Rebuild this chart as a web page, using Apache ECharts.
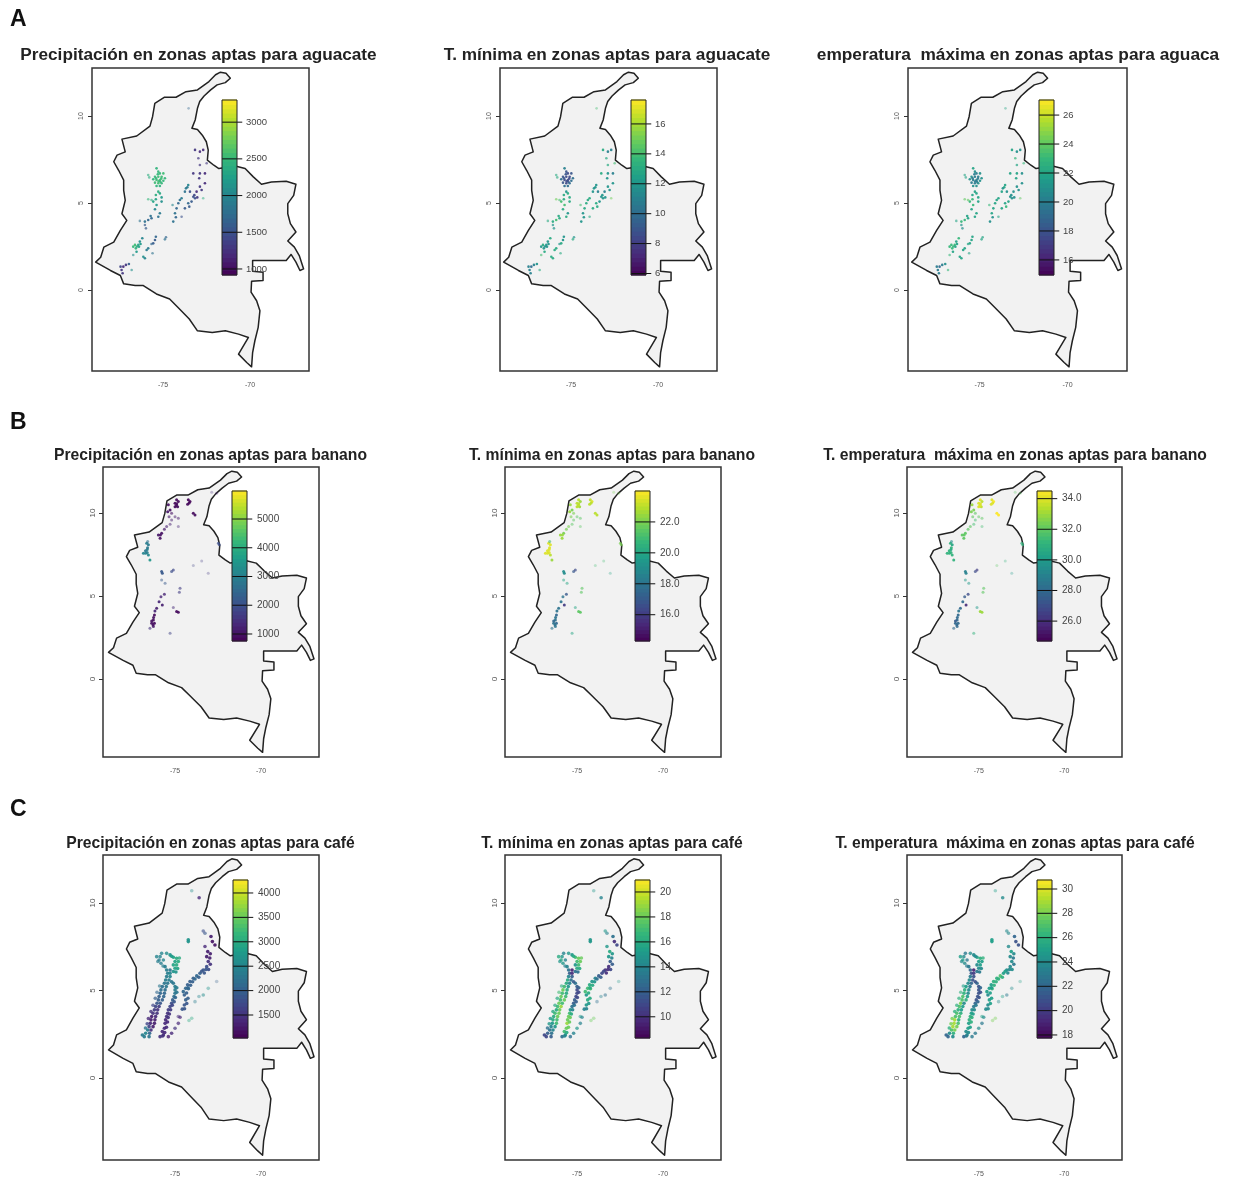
<!DOCTYPE html>
<html><head><meta charset="utf-8">
<script src="https://cdn.jsdelivr.net/npm/echarts@6/dist/echarts.min.js"></script>
<style>html,body{margin:0;background:#fff}#c{width:1236px;height:1182px;filter:blur(.7px)}</style>
</head><body><div id="c"></div>
<script>
// Colombia outline [lon, lat]
const outline=[[-71.70,12.52],[-71.38,12.46],[-71.13,12.17],[-71.42,11.92],[-71.89,11.79],[-72.26,11.50],[-72.64,11.15],[-72.89,10.83],[-73.02,10.44],[-73.15,9.77],[-73.34,9.29],[-73.02,9.23],[-72.74,8.90],[-72.51,8.52],[-72.40,8.04],[-72.45,7.46],[-72.08,7.17],[-71.79,6.98],[-70.85,7.12],[-70.28,6.98],[-69.81,6.50],[-69.34,6.08],[-68.77,6.21],[-67.92,6.25],[-67.36,6.08],[-67.49,5.44],[-67.83,4.96],[-67.83,4.38],[-67.68,3.81],[-67.36,3.33],[-67.83,2.81],[-67.45,2.46],[-67.17,1.98],[-66.92,1.21],[-67.13,1.12],[-67.36,1.60],[-67.64,2.04],[-67.92,1.69],[-69.85,1.69],[-69.85,1.08],[-69.25,1.02],[-69.25,0.54],[-69.91,0.50],[-69.94,-0.13],[-69.62,-0.62],[-69.43,-1.19],[-69.53,-2.15],[-69.72,-2.92],[-69.85,-3.60],[-69.91,-4.42],[-70.19,-4.17],[-70.66,-3.69],[-70.09,-2.73],[-70.66,-2.54],[-71.42,-2.35],[-72.17,-2.44],[-73.02,-2.35],[-73.49,-1.67],[-74.15,-1.00],[-74.62,-0.52],[-75.38,-0.23],[-76.13,0.25],[-76.60,0.25],[-77.26,0.35],[-77.45,0.83],[-78.02,1.12],[-78.87,1.60],[-78.58,1.88],[-78.40,2.46],[-77.83,2.75],[-77.45,3.42],[-77.08,4.00],[-77.36,4.38],[-77.17,5.15],[-77.26,5.73],[-77.26,6.31],[-77.55,6.88],[-77.83,7.37],[-77.64,7.75],[-77.17,7.94],[-77.36,8.67],[-76.51,8.85],[-75.75,9.42],[-75.60,9.96],[-75.47,10.73],[-74.91,11.08],[-74.25,11.08],[-73.68,11.40],[-73.02,11.50],[-72.36,11.98],[-71.98,12.37]];

// suitable zones: [lon, lat, precipitation, t min, t max, optional faintness]
const aguacate=[
[-75.37,6.99,2450,11,22],[-75.27,6.80,2500,9,21],[-75.18,6.70,2500,8.5,20],[-74.98,6.70,2550,9,21],[-75.46,6.51,2500,9,21],[-75.27,6.51,2550,8.5,20],[-75.08,6.51,2550,8.5,20],[-74.89,6.42,2500,10,21],[-75.56,6.36,2450,10,21],[-75.37,6.32,2550,8.5,20],[-75.18,6.32,2550,8.5,20],[-74.98,6.28,2500,10,21],[-75.46,6.17,2550,9,20],[-75.27,6.13,2550,8.5,20],[-75.08,6.13,2500,10,21],[-75.37,5.98,2450,10,21],[-75.18,5.98,2450,10,21],[-75.30,6.65,2500,9,20],[-75.10,6.40,2550,8.5,20],[-75.25,6.25,2550,8.5,20],[-75.40,6.42,2500,9,20],[-75.15,6.22,2500,9,20],[-75.85,6.61,2400,13,22,.6],[-75.79,6.47,2400,13,22,.6],
[-75.27,5.65,2400,12,22],[-75.41,5.46,2400,13,22],[-75.18,5.55,2350,13,22],[-75.41,5.21,2300,13,23],[-75.56,5.08,2300,14,23],[-75.08,5.32,2200,13,22],[-75.37,4.88,2200,14,23],[-75.66,5.17,2400,14,24,.6],[-75.85,5.21,2500,15,24,.6],[-75.08,5.08,2100,13,22],[-75.46,4.64,2000,13,22],
[-75.18,4.41,1900,12,22],[-75.27,4.21,1800,13,22],[-75.66,4.12,1700,13,22],[-75.85,4.02,1700,14,23],[-76.04,3.93,1800,13,23],[-76.33,3.97,1800,13,22,.6],[-75.98,3.54,1600,12,21,.7],[-76.04,3.73,1600,12,21,.7],[-75.71,4.25,1800,13,22],
[-75.41,3.06,1700,12,22],[-75.46,2.87,1600,12,22],[-75.56,2.68,1600,13,22],[-74.83,3.03,1700,12,22,.7],[-74.89,2.91,1800,13,22,.7],
[-76.71,2.49,2500,12,23],[-76.56,2.39,2450,12,23],[-76.42,2.59,2300,12,23],[-76.33,2.78,2100,12,22],[-76.19,2.97,2000,13,23],[-76.52,2.20,2200,13,22],[-76.61,2.59,2550,13,23],[-76.29,2.64,2200,12,22],[-76.50,2.50,2400,12,23],[-76.38,2.48,2300,12,22],
[-76.13,1.91,2100,13,22],[-76.04,1.82,2000,13,22],[-75.94,2.30,1900,13,22],[-75.85,2.39,1900,13,22],[-75.66,2.64,1700,12,22,.7],[-75.60,2.11,1800,13,22,.6],[-76.71,2.01,2100,14,23,.6],
[-76.96,1.49,1600,12,21],[-77.13,1.44,1300,11,20],[-77.28,1.34,1200,10,19],[-77.38,1.15,1300,11,20],[-77.32,0.96,1300,11,20],[-77.44,1.34,1400,11,20],[-76.80,1.15,2100,13,23,.6],
[-73.16,8.05,1300,13,22],[-72.88,7.95,1200,11,21],[-72.69,8.05,1200,11,21],[-72.97,7.57,1300,13,23,.7],[-72.88,7.18,1300,13,22,.7],[-72.49,7.28,1300,14,23,.6],[-73.26,6.70,1300,13,22],[-72.88,6.70,1300,12,22],[-72.59,6.70,1200,11,21],[-72.92,6.42,1300,12,22],[-72.59,6.13,1200,12,21],[-72.88,5.94,1300,12,21],
[-73.55,6.03,2000,12,22],[-73.68,5.84,1900,12,21],[-73.45,5.65,1500,11,21],[-73.74,5.65,1800,12,22],[-73.07,5.65,1200,11,21],[-72.78,5.75,1300,12,21],[-73.16,5.27,1500,12,21],[-73.36,5.08,1600,12,22],[-73.55,4.98,1700,13,22],[-73.26,5.36,1500,12,21],[-73.03,5.32,1300,12,21],[-73.60,5.90,1900,12,22],[-73.20,5.45,1400,12,21],
[-74.03,5.17,1800,13,22],[-74.12,4.98,1700,13,22],[-73.93,5.27,1900,13,22],[-73.74,4.69,1600,13,22],[-73.49,4.79,1600,13,23],[-74.22,4.69,1700,13,22],[-74.31,4.41,1800,12,22],[-74.26,4.18,1700,12,21],[-74.41,3.93,1800,12,21],[-74.45,4.88,2000,14,23,.6],[-72.69,5.27,2400,15,24,.5],[-73.93,4.21,1500,13,22,.6],[-73.53,10.44,1700,14,22,.4]];
const banano=[
[-74.91,10.79,900,23,34],[-75.00,10.59,850,23,34],[-74.81,10.69,900,22.5,33.5],[-74.85,10.38,950,22.5,33.5],[-75.00,10.38,900,23,34],[-74.90,10.55,900,23,34],[-74.92,10.45,900,23,34],[-75.39,10.49,1000,22.5,33],[-75.29,10.18,1000,22,32.5],[-75.43,10.08,1100,22.5,32.5],[-75.20,9.98,1000,22,32,.6],[-75.35,9.78,1100,22,32,.6],[-75.00,9.78,1100,21.5,32,.5],[-74.81,9.68,1100,21.5,32,.5],
[-74.23,10.79,850,23,34],[-74.13,10.69,850,23.5,34.5],[-74.27,10.53,900,23,34],[-74.18,10.60,850,23,34],[-73.94,9.98,900,23,34.5],[-73.84,9.88,950,23,34.5],
[-75.87,8.48,1000,22.5,32],[-75.78,8.78,1000,22,32],[-75.97,8.68,1100,22.5,32],[-75.62,9.02,1100,22,32,.7],[-75.49,9.18,1200,22,32,.6],[-75.29,9.32,1200,21.5,31.5,.5],[-75.85,8.68,1000,22.5,32],[-75.20,9.58,1200,21.5,31.5,.5],[-74.81,9.18,1300,21.5,31.5,.4],
[-76.65,8.18,3000,23.5,31],[-76.55,8.08,2900,23.5,30.5],[-76.71,7.57,3100,23.5,31],[-76.84,7.57,3100,23.5,31],[-76.55,7.47,3200,23,31],[-76.46,7.17,3500,22.5,31],[-76.59,8.28,2700,21,29.5,.6],[-76.62,7.80,3000,23.5,30.5],[-76.72,7.72,2800,23.5,31],[-76.60,7.90,2900,23.5,31],[-76.62,7.62,3000,23.5,31],
[-75.78,6.47,2200,19,29],[-75.74,6.37,2200,19,29],[-75.20,6.47,2000,17,27,.7],[-75.10,6.57,1900,16.5,26.5,.7],[-75.78,5.97,2200,20,30,.5],[-75.58,5.77,2200,20,30,.5],
[-74.71,5.47,1700,21.5,32,.6],[-74.75,5.22,1700,21.5,32,.6],[-75.62,5.10,1300,17,27,.8],[-75.82,4.96,1300,18,27.5,.8],[-75.93,4.66,1300,18,28],[-75.74,4.46,1200,16,26],[-76.07,4.26,1200,18,28],[-76.17,4.10,1300,18,28.5],[-76.20,3.86,900,17.5,28],[-76.26,3.56,900,18,28],[-76.36,3.36,1000,18,28],[-76.26,3.16,1100,18,28,.8],[-76.46,3.06,1500,18,28,.6],[-76.36,3.50,1000,17.5,27.5],[-76.20,3.36,900,17.5,28],[-76.25,3.70,1000,18,28],[-76.28,3.25,1000,18,28],
[-74.91,4.06,900,21.5,33],[-74.81,4.02,900,21.5,33],[-75.10,4.30,1400,20,30,.5],[-75.29,2.75,1800,20,31,.5],
[-72.48,8.18,2000,22,31,.7],[-72.43,8.08,2000,22,31,.7],[-73.45,7.11,1700,21,31,.3],[-73.94,6.83,1800,21,32,.3],[-73.07,6.37,1600,20,30,.3],[-72.87,11.25,1400,22,32,.3],[-72.58,11.19,1300,22,32,.3]];
const cafe=[
[-76.79,2.36,2400,11,22],[-76.51,2.36,2300,12,24],[-76.71,2.55,2500,12,24],[-76.48,2.55,2100,13,26],[-76.59,2.74,2400,13,27],[-76.40,2.74,1500,14,28],[-76.51,2.93,1700,14,29],[-76.28,2.93,1300,15,28],[-76.44,3.12,1400,15,29],[-76.20,3.12,1300,17,27],[-76.40,3.32,1300,16,29],[-76.17,3.32,1300,17,26],[-76.36,3.51,1300,16,27],[-76.13,3.51,1400,18,27],[-76.28,3.70,1500,17,27],[-76.05,3.70,1500,18,26],[-76.20,3.89,1600,16,26],[-76.01,3.89,1500,18,25],[-76.13,4.08,1700,17,27],[-75.93,4.08,1600,19,25],[-76.05,4.27,1900,18,28],[-75.86,4.27,1900,17,24],[-75.97,4.46,2000,17,27],[-75.74,4.46,2000,18,26],[-75.93,4.65,2000,18,27],[-75.66,4.65,2100,17,25],[-75.86,4.84,2100,17,26],[-75.62,4.84,2100,16,24],[-75.82,5.03,2200,18,26],[-75.58,5.03,2200,16,24],[-75.74,5.22,2200,17,25],[-75.51,5.22,2300,15,23],[-75.62,5.41,2300,16,24],[-75.43,5.41,2300,14,22],[-75.55,5.60,2400,16,24],[-75.35,5.60,2400,13,21],[-75.49,5.79,2400,14,23],[-75.29,5.79,2500,12,21],
[-76.90,2.45,2400,11,22],[-76.72,2.85,2300,13,26,.8],[-76.62,3.10,1700,15,28,.8],[-76.55,3.40,1400,15,28,.8],[-76.40,3.80,1500,16,26,.8],[-76.28,4.15,1700,16,26,.7],[-76.15,4.55,2000,16,26,.7],[-76.05,4.90,2100,17,26,.6],[-75.90,5.25,2300,16,25,.6],
[-75.43,5.98,2400,12,21],[-75.49,6.17,2400,13,22],[-75.58,6.36,2400,14,23],[-75.82,6.55,2400,15,24,.8],[-75.93,6.74,2400,16,25,.8],[-75.68,6.74,2500,14,23,.8],[-76.07,6.93,2500,16,25,.8],[-75.87,6.93,2500,15,24,.8],[-75.78,7.12,2500,14,23,.8],[-75.49,7.12,2600,15,24,.8],[-75.70,6.40,2400,14,23,.7],[-76.00,6.65,2400,15,24,.7],
[-75.29,7.03,2700,15,24],[-75.10,6.90,2900,17,25],[-74.91,6.84,3000,18,26],[-74.81,6.65,3000,18,25],[-74.91,6.46,3000,17,25],[-75.00,6.27,2900,16,24],[-75.10,6.08,2700,13,23],[-75.29,5.98,2500,10,20],[-75.00,6.65,2900,17,25],[-75.10,6.46,2900,15,24],[-75.29,6.17,2300,9.5,19],[-75.20,6.95,2800,16,24],[-74.75,6.85,3000,18,26,.8],[-74.85,6.25,2900,16,24],[-74.95,6.05,2700,13,23],
[-75.87,2.36,1500,13,22],[-75.68,2.46,1400,15,24],[-75.74,2.65,1400,17,24],[-75.62,2.84,1400,18,25],[-75.58,3.12,1400,19,25],[-75.55,3.32,1400,18,26],[-75.49,3.51,1500,18,26],[-75.43,3.70,1500,17,25],[-75.39,3.89,1600,15,24],[-75.29,4.08,1700,13,23],[-75.20,4.27,1800,12,22],[-75.14,4.46,2000,12,21],[-75.06,4.65,2200,11,21],[-75.00,4.84,2300,11,21],[-75.00,5.03,2400,11,21],[-75.00,5.22,2400,12,21],[-75.10,5.41,2300,13,22],[-75.20,5.50,2300,12,21],
[-75.72,2.40,1500,14,23],[-75.60,2.60,1400,16,24],[-75.50,2.90,1400,18,25],[-75.44,3.20,1400,18,26],[-75.40,3.45,1500,18,26],[-75.33,3.65,1500,16,25],[-75.26,3.90,1600,14,24],[-75.16,4.15,1700,13,23],[-75.05,4.35,1900,12,22],[-74.98,4.60,2100,11,21],[-74.90,4.90,2300,11,21],[-74.90,5.15,2400,12,22],
[-75.39,2.36,1300,13,23,.8],[-75.20,2.55,1400,14,23,.8],[-75.00,2.84,1500,15,24,.7],[-74.81,3.12,1400,14,23,.7],[-74.71,3.47,1400,14,24,.7],
[-74.58,3.93,1900,14,24],[-74.46,4.17,1900,15,24],[-74.38,4.46,2000,16,25],[-74.46,4.74,2000,15,24],[-74.52,4.93,2100,17,25],[-74.38,5.12,2100,17,25],[-74.27,5.32,2000,16,25],[-74.13,5.51,2000,15,26],[-73.94,5.70,2000,14,26],[-73.74,5.83,2100,12,27],[-73.55,5.98,2000,11,25],[-73.36,6.17,1900,10,24],[-73.16,6.36,1800,10,24],[-73.07,6.65,1500,12,24],[-73.16,6.93,1300,15,24],[-73.10,7.22,1300,16,25],[-73.26,7.51,1400,15,24,.8],[-72.83,7.79,1200,10,21],[-72.68,7.60,1200,11,21],[-72.91,8.08,1300,13,22],[-73.26,8.27,1900,14,24,.6],[-73.36,8.40,1800,15,24,.6],
[-74.45,3.95,1900,14,24],[-74.32,4.25,1900,15,25],[-74.25,4.55,2000,16,25],[-74.33,4.85,2000,16,25],[-74.22,5.10,2100,17,26],[-74.10,5.30,2000,16,26],[-73.98,5.50,2000,15,26],[-73.62,5.75,2000,12,26],[-73.30,6.00,1900,10,24],[-73.05,6.20,1800,11,24],[-72.95,6.50,1500,12,23],[-72.98,6.85,1300,14,23],[-72.95,7.10,1300,15,24],
[-73.84,5.65,2100,13,26],[-73.45,6.10,1900,11,25],[-73.20,6.20,1900,10,24],[-74.25,5.15,2100,16,25],
[-74.23,7.89,2700,15,25],[-74.23,7.79,2700,15,25],
[-74.03,3.41,3000,18,28,.4],[-74.19,3.28,3000,18,28,.4],[-73.84,4.36,2400,13,24,.4],[-73.61,4.65,2500,14,25,.4],[-73.36,4.74,2600,13,23,.5],[-73.07,5.12,2700,13,24,.4],[-72.58,5.51,2000,15,25,.3],[-74.81,3.51,1400,15,25,.5],[-73.60,10.30,1400,14,24,.8],[-74.03,10.70,2600,15,25,.4]];

const zoneLists=[aguacate,banano,cafe];
const pointSizes=[2.6,3,3.6];

// titles (as printed; the clipped one kept as it appears)
const titles=[
"Precipitación en zonas aptas para aguacate","T. mínima en zonas aptas para aguacate","emperatura  máxima en zonas aptas para aguaca",
"Precipitación en zonas aptas para banano","T. mínima en zonas aptas para banano","T. emperatura  máxima en zonas aptas para banano",
"Precipitación en zonas aptas para café","T. mínima en zonas aptas para café","T. emperatura  máxima en zonas aptas para café"];
const titleCentres=[198.5,607,1018,210.5,612,1015,210.5,612,1015];
const titleY=[57,57,57,457.5,457.5,457.5,845,845,845];
const titleSizes=[17.2,17.2,17.3,15.7,15.7,15.7,15.7,15.7,15.7];
const rowLetters=["A","B","C"];
const rowLetterY=[20,423,810];

// colour bar scales
const barMin=[918,5.9,14.96,756,14.3,24.7,1029,8.3,17.75];
const barMax=[3302,17.6,27.04,5975,24,34.5,4266,20.96,30.74];
const barTicks=[[1000,1500,2000,2500,3000],[6,8,10,12,14,16],[16,18,20,22,24,26],[1000,2000,3000,4000,5000],[16,18,20,22],[26,28,30,32,34],[1500,2000,2500,3000,3500,4000],[10,12,14,16,18,20],[18,20,22,24,26,28,30]];
const barDecimals=[0,0,0,0,1,1,0,0,0];

const lonTicks=[-75,-70];
const latTicks=[0,5,10];
const lonRange=[[-79.08,-66.61],[-79.19,-66.63],[-79.19,-66.63]];
const latRange=[[-4.66,12.76],[-4.70,12.77],[-4.69,12.74]];

// layout
const boxes=[[92,68,217,303],[500,68,217,303],[908,68,219,303],[103,467,216,290],[505,467,216,290],[907,467,215,290],[103,855,216,305],[505,855,216,305],[907,855,215,305]];
const bars=[[222,100,15,175],[631,100,15,175],[1039,100,15,175],[232,491,15,150],[635,491,15,150],[1037,491,15,150],[233,880,15,158],[635,880,15,158],[1037,880,15,158]];

const viridisStops=[[68,1,84],[72,40,120],[62,74,137],[49,104,142],[38,130,142],[31,158,137],[53,183,121],[110,206,88],[181,222,43],[253,231,37]];
function viridis(t){
  t=Math.max(0,Math.min(1,t))*(viridisStops.length-1);
  const i=Math.min(Math.floor(t),viridisStops.length-2),f=t-i,a=viridisStops[i],b=viridisStops[i+1];
  return 'rgb('+[0,1,2].map(k=>Math.round(a[k]+(b[k]-a[k])*f)).join(',')+')';
}

const grids=[],xAxes=[],yAxes=[],series=[],titleOpt=[];
const labelFont={fontFamily:'Liberation Sans',color:'#555'};
titles.forEach((text,p)=>{
  const row=Math.floor(p/3),col=p%3,b=boxes[p],r=bars[p];
  const mn=barMin[p],mx=barMax[p];
  titleOpt.push({text,left:titleCentres[p],top:titleY[p]-titleSizes[p]*.62,textAlign:'center',padding:0,
    textStyle:{fontFamily:'Liberation Sans',fontWeight:'bold',fontSize:titleSizes[p],color:'#222'}});
  // map grid
  const gi=grids.length;
  grids.push({left:b[0],top:b[1],width:b[2],height:b[3],show:true,borderColor:'#333',borderWidth:1.5,backgroundColor:'transparent',containLabel:false});
  xAxes.push({type:'value',gridIndex:gi,min:lonRange[row][0],max:lonRange[row][1],splitLine:{show:false},axisLine:{show:false},
    axisTick:{show:true,length:4,customValues:lonTicks,lineStyle:{color:'#333'}},
    axisLabel:Object.assign({customValues:lonTicks,fontSize:7,margin:11},labelFont)});
  yAxes.push({type:'value',gridIndex:gi,min:latRange[row][0],max:latRange[row][1],splitLine:{show:false},axisLine:{show:false},
    axisTick:{show:true,length:4,customValues:latTicks,lineStyle:{color:'#333'}},
    axisLabel:Object.assign({customValues:latTicks,fontSize:row?8:7,rotate:90,margin:row?6:7},labelFont)});
  series.push({type:'custom',xAxisIndex:gi,yAxisIndex:gi,z:1,silent:true,clip:false,data:outline,
    renderItem:(params,api)=>{
      if(params.dataIndex!==0) return null;
      return {type:'polygon',shape:{points:outline.map(q=>api.coord(q))},style:{fill:'#f2f2f2',stroke:'#222',lineWidth:1.5,lineJoin:'round'}};
    }});
  const vi=col+2;
  series.push({type:'scatter',xAxisIndex:gi,yAxisIndex:gi,z:2,silent:true,symbolSize:pointSizes[row],
    data:zoneLists[row].map(q=>({value:[q[0],q[1],q[vi]],itemStyle:{opacity:q[5]||.92}})),
    itemStyle:{color:d=>viridis((d.value[2]-mn)/(mx-mn))}});
  // colour bar grid
  const bi=grids.length;
  grids.push({left:r[0],top:r[1],width:r[2],height:r[3],show:false,containLabel:false});
  xAxes.push({type:'value',gridIndex:bi,min:0,max:1,show:false});
  yAxes.push({type:'value',gridIndex:bi,z:6,min:mn,max:mx,position:'right',splitLine:{show:false},axisLine:{show:false},axisTick:{show:false},
    axisLabel:Object.assign({customValues:barTicks[p],fontSize:row?10:9.5,margin:row?10:9,formatter:v=>(+v).toFixed(barDecimals[p])},labelFont,{color:'#444'})});
  series.push({type:'custom',xAxisIndex:bi,yAxisIndex:bi,z:3,silent:true,clip:false,data:[[0,mn]],
    renderItem:(params,api)=>{
      const kids=[],n=40;
      for(let i=0;i<n;i++){
        const a=api.coord([0,mn+(mx-mn)*i/n]),c=api.coord([1,mn+(mx-mn)*(i+1)/n]);
        kids.push({type:'rect',shape:{x:a[0],y:c[1]-.5,width:c[0]-a[0],height:a[1]-c[1]+1},style:{fill:viridis((i+.5)/n)}});
      }
      barTicks[p].forEach(v=>{
        const a=api.coord([0,v]),c=api.coord([1.35,v]);
        kids.push({type:'line',shape:{x1:a[0],y1:a[1],x2:c[0],y2:c[1]},style:{stroke:'#111',lineWidth:1}});
      });
      const a=api.coord([0,mn]),c=api.coord([1,mx]);
      kids.push({type:'rect',shape:{x:a[0],y:c[1],width:c[0]-a[0],height:a[1]-c[1]},style:{fill:'none',stroke:'#222',lineWidth:1}});
      return {type:'group',children:kids};
    }});
});
rowLetters.forEach((t,i)=>titleOpt.push({text:t,left:10,top:rowLetterY[i]-12,padding:0,
  textStyle:{fontFamily:'Liberation Sans',fontWeight:'bold',fontSize:23,color:'#111'}}));

const chart=echarts.init(document.getElementById('c'),null,{renderer:'canvas'});
chart.setOption({animation:false,backgroundColor:'#fff',title:titleOpt,grid:grids,xAxis:xAxes,yAxis:yAxes,series});
</script></body></html>
